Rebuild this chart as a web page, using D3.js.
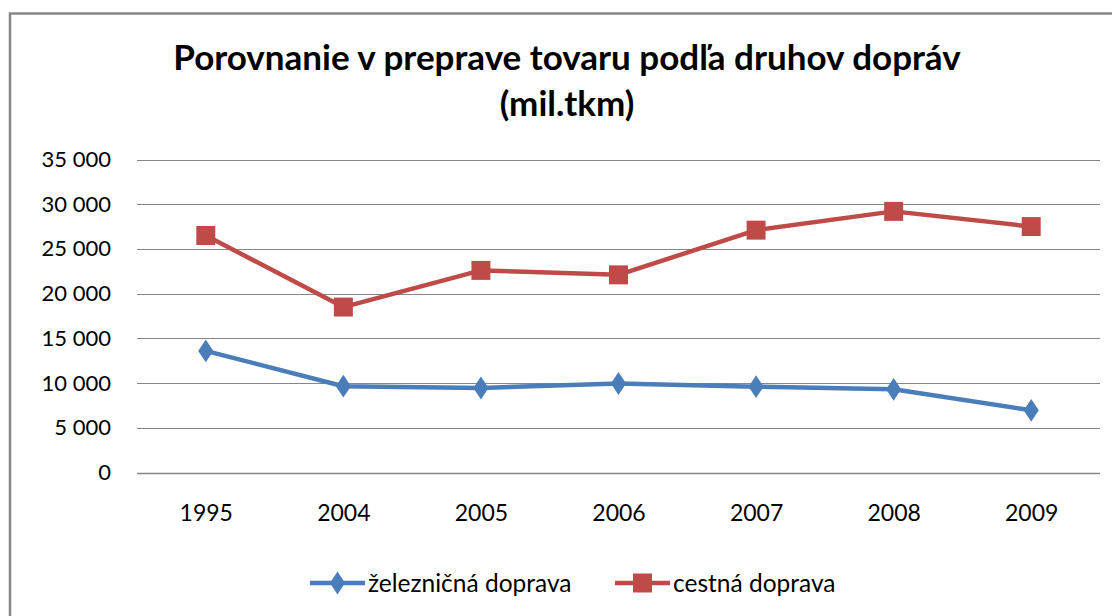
<!DOCTYPE html>
<html>
<head>
<meta charset="utf-8">
<script src="https://cdn.jsdelivr.net/npm/d3@7"></script>
<style>
  html, body { margin: 0; padding: 0; background: #fff; }
  svg { display: block; font-family: Lato, "Open Sans", sans-serif; }
</style>
</head>
<body>
<svg id="chart" width="1112" height="616"></svg>
<script>
const years = ["1995", "2004", "2005", "2006", "2007", "2008", "2009"];
const rail = [13600, 9650, 9450, 9950, 9600, 9300, 6950];
const road = [26500, 18500, 22600, 22100, 27100, 29200, 27500];
const yTicks = [0, 5000, 10000, 15000, 20000, 25000, 30000, 35000];
const seriesNames = ["železničná doprava", "cestná doprava"];
const titleLines = ["Porovnanie v preprave tovaru podľa druhov dopráv", "(mil.tkm)"];

const svg = d3.select("#chart");

// outer frame (cut off at right and bottom like the screenshot)
svg.append("rect")
  .attr("x", 10).attr("y", 13.5)
  .attr("width", 1200).attr("height", 700)
  .attr("fill", "none")
  .attr("stroke", "#868686")
  .attr("stroke-width", 2.5);

const x = d3.scalePoint().domain(years).range([137, 1100]).padding(0.5);
const y = d3.scaleLinear().domain([0, 35000]).range([472.5, 159.5]);

const locale = d3.formatLocale({ decimal: ",", thousands: "\u00a0", grouping: [3], currency: ["", " €"] });
const fmt = locale.format(",d");

// title
svg.append("g").selectAll("text")
  .data(titleLines)
  .join("text")
  .attr("x", 567)
  .attr("y", (d, i) => 70 + i * 46)
  .attr("text-anchor", "middle")
  .attr("font-size", 35)
  .attr("font-weight", "bold")
  .attr("fill", "#000")
  .text(d => d);

// gridlines
svg.append("g").selectAll("line")
  .data(yTicks)
  .join("line")
  .attr("x1", 137).attr("x2", 1100)
  .attr("y1", d => Math.round(y(d)) + 0.5)
  .attr("y2", d => Math.round(y(d)) + 0.5)
  .attr("stroke", "#868686")
  .attr("stroke-width", d => d === 0 ? 1.5 : 1);

// y axis labels
const yAxis = d3.axisLeft(y).tickValues(yTicks).tickFormat(fmt).tickSize(0).tickPadding(0);
svg.append("g")
  .attr("transform", "translate(111,0)")
  .call(yAxis)
  .call(g => g.select(".domain").remove())
  .call(g => g.selectAll("text")
    .attr("font-family", "Lato, sans-serif")
    .attr("font-size", 22)
    .attr("fill", "#000"));

// x axis labels
const xAxis = d3.axisBottom(x).tickSize(0).tickPadding(0);
svg.append("g")
  .attr("transform", "translate(0,505)")
  .call(xAxis)
  .call(g => g.select(".domain").remove())
  .call(g => g.selectAll("text")
    .attr("font-family", "Lato, sans-serif")
    .attr("font-size", 23)
    .attr("fill", "#000"));

const blue = "#4A7EBB", red = "#BE4B48";
const line = d3.line().x((d, i) => x(years[i])).y(d => y(d));

const diamond = d3.symbol().type(d3.symbolDiamond).size(150);
const square = d3.symbol().type(d3.symbolSquare).size(360);

// rail series
svg.append("path")
  .datum(rail)
  .attr("d", line)
  .attr("fill", "none")
  .attr("stroke", blue)
  .attr("stroke-width", 4.5)
  .attr("stroke-linejoin", "round");
svg.append("g").selectAll("path")
  .data(rail)
  .join("path")
  .attr("d", diamond)
  .attr("transform", (d, i) => `translate(${x(years[i])},${y(d)}) scale(1.15,1)`)
  .attr("fill", blue);

// road series
svg.append("path")
  .datum(road)
  .attr("d", line)
  .attr("fill", "none")
  .attr("stroke", red)
  .attr("stroke-width", 4.5)
  .attr("stroke-linejoin", "round");
svg.append("g").selectAll("path")
  .data(road)
  .join("path")
  .attr("d", square)
  .attr("transform", (d, i) => `translate(${x(years[i])},${y(d)})`)
  .attr("fill", red);

// legend
const legendItems = [
  { name: seriesNames[0], color: blue, sym: diamond, x0: 310, sx: 1.15 },
  { name: seriesNames[1], color: red, sym: square, x0: 615, sx: 1 }
];
const lg = svg.append("g").selectAll("g")
  .data(legendItems)
  .join("g")
  .attr("transform", d => `translate(${d.x0},583)`);
lg.append("line")
  .attr("x1", 0).attr("x2", 55)
  .attr("stroke", d => d.color)
  .attr("stroke-width", 4.5);
lg.append("path")
  .attr("d", d => d.sym())
  .attr("transform", d => `translate(27.5,0) scale(${d.sx},1)`)
  .attr("fill", d => d.color);
lg.append("text")
  .attr("x", 58)
  .attr("y", 8.5)
  .attr("font-size", 24.5)
  .attr("fill", "#000")
  .text(d => d.name);
</script>
</body>
</html>
